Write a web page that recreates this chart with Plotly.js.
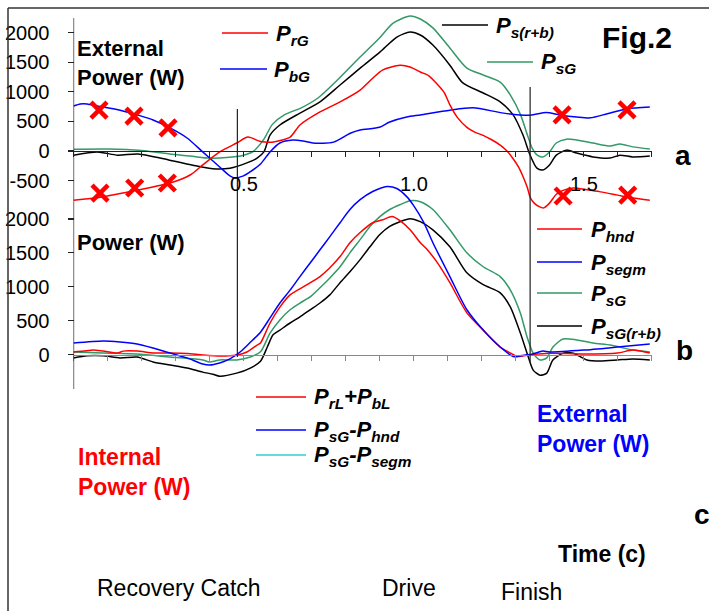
<!DOCTYPE html>
<html><head><meta charset="utf-8">
<script src="https://cdn.plot.ly/plotly-3.0.1.min.js"></script>
<style>html,body{margin:0;padding:0;background:#fff}#chart{width:709px;height:611px}</style>
</head><body><div id="chart"></div>
<script>
// ---------- Panel a: external power (W) vs time (s) ----------
const tA_rG = [0,0.08,0.188,0.284,0.343,0.38,0.43,0.48,0.513,0.55,0.584,0.637,0.666,0.725,0.784,0.843,0.88,0.91,0.96,0.99,1.02,1.045,1.068,1.09,1.107,1.13,1.157,1.18,1.205,1.23,1.255,1.275,1.293,1.31,1.322,1.335,1.343,1.355,1.37,1.383,1.4,1.42,1.44,1.47,1.51,1.55,1.6,1.645,1.695];
const pA_rG = [-830,-780,-660,-540,-405,-235,-15,135,235,160,150,235,440,660,830,1030,1230,1370,1450,1420,1335,1270,1140,990,780,560,400,320,265,190,100,0,-130,-280,-430,-620,-780,-880,-940,-960,-880,-730,-665,-625,-655,-690,-745,-795,-830];

const tA_bG = [0,0.02,0.04,0.07,0.137,0.187,0.234,0.284,0.334,0.38,0.43,0.46,0.475,0.5,0.515,0.55,0.578,0.607,0.645,0.675,0.704,0.765,0.814,0.843,0.9,0.93,0.98,1.02,1.107,1.175,1.265,1.343,1.39,1.43,1.48,1.52,1.57,1.628,1.695];
const pA_bG = [760,795,795,760,690,610,525,390,220,-15,-270,-420,-455,-420,-370,-220,-15,135,185,170,135,150,300,355,400,490,575,610,690,730,640,605,650,610,575,560,630,715,745];

const tA_srb = [0,0.07,0.13,0.19,0.28,0.36,0.41,0.46,0.51,0.54,0.56,0.578,0.607,0.666,0.725,0.784,0.843,0.901,0.951,0.99,1.02,1.057,1.107,1.145,1.205,1.255,1.293,1.322,1.343,1.363,1.38,1.4,1.42,1.45,1.48,1.528,1.578,1.607,1.645,1.695];
const pA_srb = [-70,-15,-70,-50,-150,-250,-300,-290,-200,-120,-15,270,440,640,830,1115,1400,1670,1925,2010,1960,1790,1450,1150,980,830,610,270,-70,-290,-320,-235,-70,15,-35,-100,-120,-70,-100,-85];

const tA_sG = [0,0.1,0.2,0.3,0.35,0.4,0.45,0.5,0.53,0.56,0.585,0.62,0.67,0.72,0.78,0.84,0.9,0.94,0.99,1.02,1.057,1.107,1.157,1.205,1.255,1.285,1.315,1.335,1.349,1.364,1.38,1.4,1.42,1.45,1.48,1.528,1.578,1.607,1.645,1.695];
const pA_sG = [30,35,10,-60,-90,-120,-110,-70,0,200,450,610,730,900,1220,1570,1910,2160,2280,2230,2080,1740,1400,1285,1165,945,610,270,50,-70,-100,-15,135,200,185,135,85,120,70,35];

const markT_bG = [0.075,0.178,0.278,1.437,1.628];
const markV_bG = [690,590,390,610,695];
const markT_rG = [0.078,0.18,0.276,1.44,1.63];
const markV_rG = [-710,-625,-540,-760,-745];

// ---------- Panel b: power (W) vs time (s) ----------
const tB_hnd = [0,0.03,0.058,0.087,0.13,0.146,0.187,0.235,0.284,0.334,0.38,0.43,0.48,0.51,0.54,0.55,0.578,0.607,0.637,0.687,0.725,0.754,0.784,0.813,0.843,0.88,0.91,0.937,0.96,0.99,1.02,1.04,1.068,1.107,1.157,1.205,1.255,1.293,1.305,1.35,1.4,1.5,1.6,1.645,1.695];
const pB_hnd = [37,50,65,50,22,50,50,22,22,15,-7,-22,-7,37,140,170,465,700,880,1030,1150,1280,1445,1650,1800,1945,1990,2035,1975,1840,1650,1550,1370,1060,615,360,110,0,-30,0,20,7,22,65,22];

const tB_segm = [0,0.087,0.137,0.187,0.234,0.284,0.334,0.38,0.4,0.43,0.46,0.49,0.52,0.55,0.578,0.607,0.637,0.666,0.696,0.725,0.754,0.784,0.813,0.843,0.88,0.922,0.951,0.98,1.0,1.03,1.057,1.107,1.157,1.205,1.255,1.293,1.314,1.35,1.38,1.4,1.5,1.6,1.695];
const pB_segm = [170,200,185,155,95,22,-50,-140,-155,-125,-65,37,180,330,540,760,950,1150,1350,1545,1740,1945,2140,2285,2405,2480,2450,2330,2200,1950,1650,1150,660,360,110,-30,-20,7,50,37,65,110,155];

const tB_sG = [0,0.087,0.187,0.284,0.38,0.4,0.43,0.48,0.52,0.55,0.578,0.607,0.637,0.666,0.696,0.725,0.754,0.784,0.813,0.843,0.872,0.901,0.93,0.96,0.99,1.02,1.057,1.107,1.157,1.205,1.255,1.285,1.314,1.334,1.352,1.372,1.392,1.41,1.44,1.48,1.528,1.578,1.607,1.645,1.695];
const pB_sG = [37,22,7,-37,-80,-110,-80,-80,-37,40,315,510,660,760,850,985,1130,1295,1500,1695,1890,2035,2140,2210,2270,2255,2140,1840,1500,1295,1150,950,615,260,20,-80,-50,110,230,215,170,140,110,65,37];

const tB_srb = [0,0.04,0.087,0.137,0.187,0.234,0.284,0.334,0.38,0.41,0.43,0.48,0.52,0.55,0.57,0.587,0.607,0.637,0.666,0.696,0.725,0.754,0.784,0.813,0.843,0.872,0.901,0.93,0.96,0.99,1.02,1.057,1.107,1.157,1.205,1.255,1.285,1.314,1.334,1.352,1.372,1.392,1.41,1.44,1.47,1.51,1.55,1.6,1.645,1.695];
const pB_srb = [-50,-20,-20,-50,-37,-110,-155,-200,-260,-290,-320,-275,-200,-100,110,290,360,465,555,660,760,880,1060,1220,1400,1590,1770,1890,1960,2005,1960,1840,1590,1205,1030,910,700,320,20,-230,-305,-275,-80,20,20,-80,-95,-80,-65,-80];

// phase markers (s): catch and finish
const phaseT = [0.482, 1.343];
const xTickVals = [0.5, 1.0, 1.5];
const xTickText = ['0.5', '1.0', '1.5'];
const yTicksA = [-500, 0, 500, 1000, 1500, 2000];
const yTicksB = [0, 500, 1000, 1500, 2000];

// ---------- drawing ----------
const W = 709, H = 611;
const px = v => v / W, py = v => 1 - v / H;
const FONT = 'Arial, "Liberation Sans", sans-serif';
const RED = '#ff0000', BLUE = '#0000ff', GREEN = '#339966', BLACK = '#000000', CYAN = '#33cccc';

function curve(x, y, color, xa, ya) {
  return {x, y, type: 'scatter', mode: 'lines', xaxis: xa, yaxis: ya,
    line: {color, width: 1.5, shape: 'spline', smoothing: 0.7},
    hoverinfo: 'skip', showlegend: false};
}
function marks(x, y) {
  return {x, y, type: 'scatter', mode: 'markers', xaxis: 'x', yaxis: 'y',
    marker: {symbol: 'x-thin', size: 16, color: RED, line: {color: RED, width: 4.5}},
    cliponaxis: false, hoverinfo: 'skip', showlegend: false};
}

const data = [
  curve(tA_sG, pA_sG, GREEN, 'x', 'y'),
  curve(tA_srb, pA_srb, BLACK, 'x', 'y'),
  curve(tA_bG, pA_bG, BLUE, 'x', 'y'),
  curve(tA_rG, pA_rG, RED, 'x', 'y'),
  marks(markT_bG, markV_bG),
  marks(markT_rG, markV_rG),
  curve(tB_sG, pB_sG, GREEN, 'x2', 'y2'),
  curve(tB_srb, pB_srb, BLACK, 'x2', 'y2'),
  curve(tB_hnd, pB_hnd, RED, 'x2', 'y2'),
  curve(tB_segm, pB_segm, BLUE, 'x2', 'y2')
];

function xAxis(posPx, color) {
  return {domain: [px(73.5), px(651.5)], range: [0, 1.7], anchor: 'free', position: py(posPx),
    showline: true, linecolor: color, linewidth: 1.3, ticks: 'outside', ticklen: 5,
    tickcolor: color, tickwidth: 1.2, tick0: 0, dtick: 0.1, showticklabels: false,
    showgrid: false, zeroline: false, automargin: false, fixedrange: true};
}
function yAxis(topPx, botPx, range, vals) {
  return {domain: [py(botPx), py(topPx)], range, anchor: 'free', position: px(73.5),
    showline: false, ticks: 'outside', ticklen: 6,
    tickcolor: '#222', tickwidth: 1.2, tickvals: vals, ticktext: vals.map(String),
    tickfont: {family: FONT, size: 20, color: '#000'}, ticklabelstandoff: 14,
    showgrid: false, zeroline: false, automargin: false, fixedrange: true};
}

const ann = [];
function txt(x, y, text, size, color, anchor) {
  ann.push({xref: 'paper', yref: 'paper', x: px(x), y: py(y), text, showarrow: false, align: 'left',
    xanchor: anchor || 'left', yanchor: 'middle', font: {family: FONT, size, color: color || '#000'}});
}
const P = (s) => '<b><i>P<sub>' + s + '</sub></i></b>';

// x tick labels (shared between panels)
xTickVals.forEach((v, i) => ann.push({xref: 'x', yref: 'paper', x: v, y: py(184), text: xTickText[i],
  showarrow: false, xanchor: 'center', yanchor: 'middle', font: {family: FONT, size: 20, color: '#000'}}));

txt(75, 63, '<b>External<br>Power (W)</b>', 22);
txt(75, 243, '<b>Power (W)</b>', 22);
txt(600, 37, '<b>Fig.2</b>', 30);
txt(673, 155, '<b>a</b>', 28);
txt(674, 350, '<b>b</b>', 28);
txt(692, 514, '<b>c</b>', 28);

// legend a
txt(274, 35, P('rG'), 22);
txt(272, 71, P('bG'), 22);
txt(494, 27, P('s(r+b)'), 22);
txt(539, 63, P('sG'), 22);
// legend b
txt(589, 231, P('hnd'), 22);
txt(589, 264, P('segm'), 22);
txt(589, 295, P('sG'), 22);
txt(589, 328, P('sG(r+b)'), 22);
// legend c
txt(312, 398, '<b><i>P<sub>rL</sub>+P<sub>bL</sub></i></b>', 22);
txt(312, 431, '<b><i>P<sub>sG</sub>-P<sub>hnd</sub></i></b>', 22);
txt(312, 456, '<b><i>P<sub>sG</sub>-P<sub>segm</sub></i></b>', 22);

txt(76, 472, '<b>Internal<br>Power (W)</b>', 23, RED);
txt(535, 429, '<b>External<br>Power (W)</b>', 23, BLUE);
txt(556, 554, '<b>Time (c)</b>', 23);
txt(95, 588, 'Recovery Catch', 23);
txt(380, 588, 'Drive', 23);
txt(499, 592, 'Finish', 23);

const shapes = [];
function seg(x0, y0, x1, y1, color, w) {
  shapes.push({type: 'line', xref: 'paper', yref: 'paper', x0: px(x0), y0: py(y0), x1: px(x1), y1: py(y1),
    line: {color, width: w || 1.5}});
}
// frame
seg(8, 8, 709, 8, '#333', 1.5);
seg(8, 8, 8, 611, '#333', 1.5);
// shared left axis line (both panels)
shapes.push({type: 'line', xref: 'x', yref: 'paper', x0: 0, x1: 0, y0: py(18), y1: py(389),
  line: {color: '#222', width: 1.3}});
// legend samples
seg(222, 33, 268, 33, RED); seg(220, 69, 267, 69, BLUE);
seg(442, 25, 488, 25, BLACK); seg(487, 62, 533, 62, GREEN);
seg(537, 229, 582, 229, RED); seg(537, 262, 582, 262, BLUE);
seg(537, 293, 582, 293, GREEN); seg(537, 326, 582, 326, BLACK);
seg(256, 397, 306, 397, RED); seg(256, 430, 306, 430, BLUE); seg(256, 455, 306, 455, CYAN);
// phase lines
const phaseTop = [109, 87], phaseBot = [357, 362];
phaseT.forEach((t, i) => shapes.push({type: 'line', xref: 'x', yref: 'paper', x0: t, x1: t,
  y0: py(phaseTop[i]), y1: py(phaseBot[i]), line: {color: '#222', width: 1.2}}));

const layout = {
  width: W, height: H, margin: {l: 0, r: 0, t: 0, b: 0, autoexpand: false},
  paper_bgcolor: '#fff', plot_bgcolor: 'rgba(0,0,0,0)', showlegend: false,
  font: {family: FONT, color: '#000'},
  xaxis: xAxis(151, '#222'), yaxis: yAxis(12, 212, [-1030, 2348], yTicksA),
  xaxis2: xAxis(354.5, '#888'), yaxis2: yAxis(183, 389, [-509, 2531], yTicksB),
  annotations: ann, shapes
};
Plotly.newPlot('chart', data, layout, {staticPlot: true, displayModeBar: false});
</script></body></html>
